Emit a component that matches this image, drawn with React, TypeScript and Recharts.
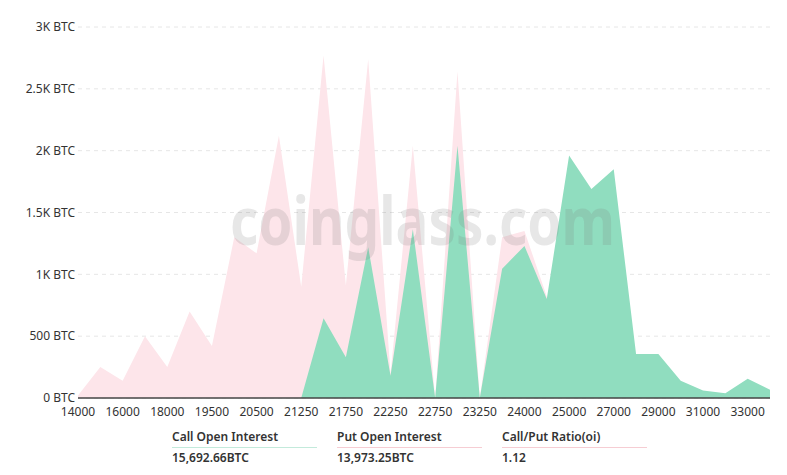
import { Area, AreaChart, CartesianGrid, XAxis, YAxis } from 'recharts';

const strikes = [
  '14000', '15000', '16000', '17000', '18000', '19000', '19500', '20000',
  '20500', '21000', '21250', '21500', '21750', '22000', '22250', '22500',
  '22750', '23000', '23250', '23500', '24000', '24500', '25000', '26000',
  '27000', '28000', '29000', '30000', '31000', '32000', '33000', '34000',
];

const putOi = [
  20, 250, 140, 500, 250, 700, 420, 1300,
  1170, 2120, 900, 2770, 910, 2740, 195, 2040,
  0, 2640, 0, 1300, 1350, 820, 300, 260,
  200, 120, 90, 60, 30, 20, 40, 20,
];

const callOi = [
  0, 0, 0, 0, 0, 0, 0, 0,
  0, 0, 0, 645, 330, 1220, 180, 1365,
  0, 2040, 0, 1045, 1230, 800, 1960, 1690,
  1850, 355, 355, 140, 60, 38, 155, 67,
];

const yTicks = [0, 500, 1000, 1500, 2000, 2500, 3000];

const legendItems = [
  { label: 'Call Open Interest', value: '15,692.66BTC', line: '#c3eadb' },
  { label: 'Put Open Interest', value: '13,973.25BTC', line: '#f6cdd3' },
  { label: 'Call/Put Ratio(oi)', value: '1.12', line: '#f6cdd3' },
];

const data = strikes.map((s, i) => ({ strike: s, put: putOi[i], call: callOi[i] }));

const fontFamily = '"Noto Sans", "Open Sans", sans-serif';

const formatBtc = (v: number) => {
  if (v === 0) return '0 BTC';
  if (v < 1000) return `${v} BTC`;
  return `${v / 1000}K BTC`;
};

export default function App() {
  return (
    <div style={{ position: 'absolute', left: 0, top: 0, width: 787, height: 475, background: '#fff', fontFamily }}>
      <AreaChart width={787} height={430} data={data} margin={{ top: 27, right: 17, bottom: 0, left: 0 }}>
        <CartesianGrid stroke="#e6e6e6" strokeDasharray="4 4" vertical={false} />
        <XAxis
          dataKey="strike"
          interval={1}
          tickLine={false}
          tickSize={4}
          axisLine={{ stroke: '#444', strokeWidth: 1.5 }}
          height={32}
          tick={{ fontSize: 12, fill: '#333', fontFamily }}
          tickMargin={5}
        />
        <YAxis
          domain={[0, 3000]}
          ticks={yTicks}
          tickFormatter={formatBtc}
          width={78}
          axisLine={false}
          tickLine={false}
          tickSize={0}
          tick={{ fontSize: 12, fill: '#333', fontFamily }}
          tickMargin={3}
        />
        <Area
          type="linear"
          dataKey="put"
          stroke="none"
          fill="#fde5ea"
          fillOpacity={1}
          isAnimationActive={false}
          dot={false}
          activeDot={false}
        />
        <Area
          type="linear"
          dataKey="call"
          stroke="none"
          fill="#90ddbf"
          fillOpacity={1}
          isAnimationActive={false}
          dot={false}
          activeDot={false}
        />
      </AreaChart>
      {/* watermark sits above the areas */}
      <svg
        width={787}
        height={430}
        style={{ position: 'absolute', left: 0, top: 0, pointerEvents: 'none' }}
      >
        <text
          x={230}
          y={245}
          fontSize={66}
          fontWeight={700}
          fill="#7a7a7a"
          fillOpacity={0.18}
          fontFamily={fontFamily}
          textLength={385}
          lengthAdjust="spacingAndGlyphs"
        >
          coinglass.com
        </text>
      </svg>
      <div style={{ position: 'absolute', left: 172, top: 429, display: 'flex', gap: 20 }}>
        {legendItems.map((it) => (
          <div key={it.label} style={{ width: 145 }}>
            <div style={{ fontSize: 12, fontWeight: 600, color: '#333', lineHeight: '16px' }}>{it.label}</div>
            <div style={{ height: 1, background: it.line, margin: '2px 0 2px' }} />
            <div style={{ fontSize: 12, fontWeight: 600, color: '#333', lineHeight: '16px' }}>{it.value}</div>
          </div>
        ))}
      </div>
    </div>
  );
}
